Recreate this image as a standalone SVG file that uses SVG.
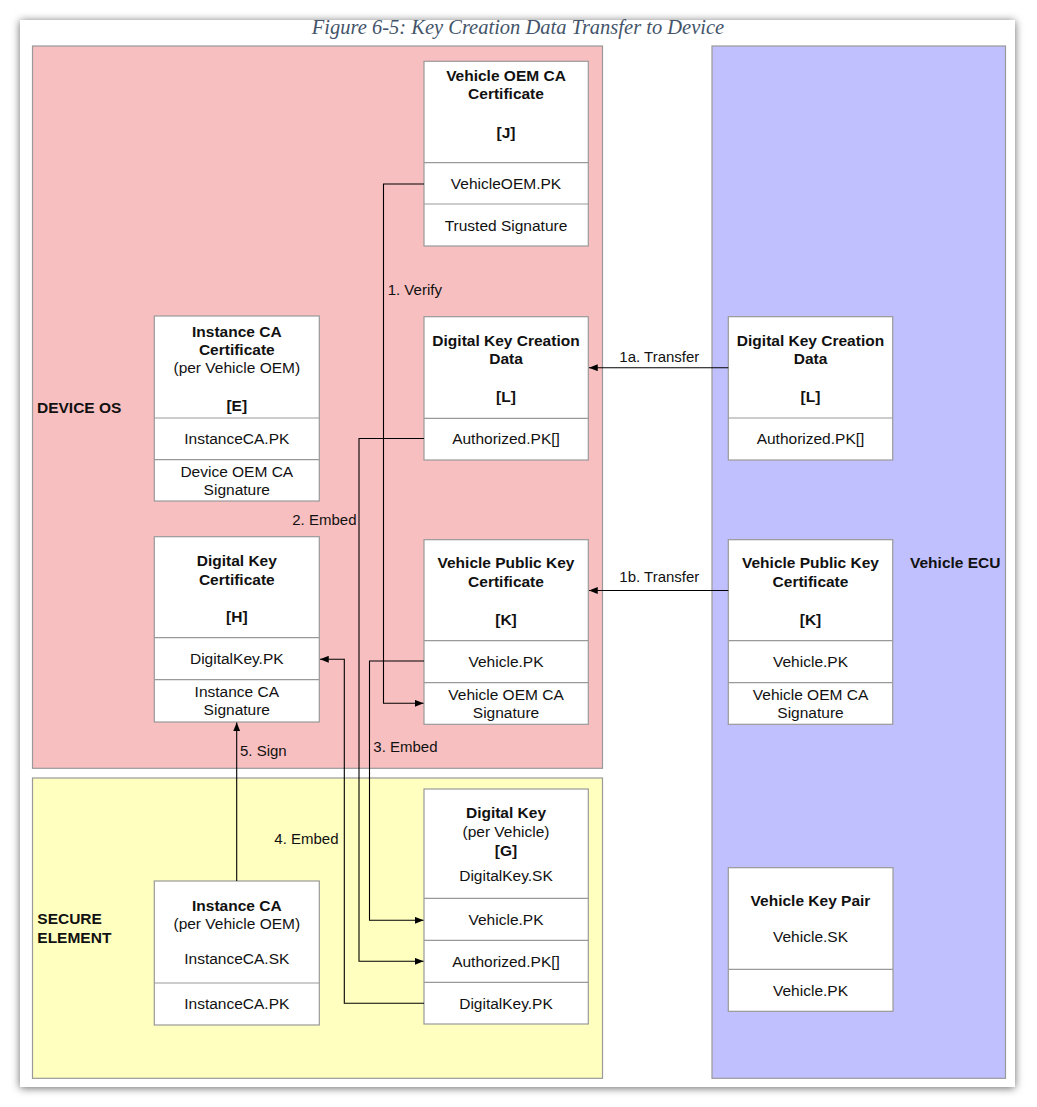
<svg xmlns="http://www.w3.org/2000/svg" width="1037" height="1107" viewBox="0 0 1037 1107">
<defs>
<filter id="shadow" x="-5%" y="-5%" width="110%" height="110%">
<feDropShadow dx="0" dy="1" stdDeviation="4" flood-color="#000" flood-opacity="0.6"/>
</filter>
<marker id="arr" viewBox="0 0 10 8" refX="10" refY="4" markerWidth="9" markerHeight="7" markerUnits="userSpaceOnUse" orient="auto">
<path d="M0,0 L10,4 L0,8 z" fill="#000"/>
</marker>
<style>
.box{fill:#fff;stroke:#999;stroke-width:1.2}
.sep{stroke:#999;stroke-width:1.2}
.t{font-family:"Liberation Sans",Arial,sans-serif;font-size:15.5px;fill:#111;text-anchor:middle}
.b{font-weight:bold}
.lbl{font-family:"Liberation Sans",Arial,sans-serif;font-size:15px;fill:#111}
.rl{font-family:"Liberation Sans",Arial,sans-serif;font-size:15.5px;font-weight:bold;fill:#111}
.con{fill:none;stroke:#000;stroke-width:1.1}
</style>
</defs>
<rect x="0" y="0" width="1037" height="1107" fill="#fff"/>
<rect x="20" y="20" width="995" height="1067" fill="#fff" filter="url(#shadow)"/>
<text x="518" y="34.3" font-family="'Liberation Serif','Times New Roman',serif" font-style="italic" font-size="20.5" fill="#44546A" text-anchor="middle">Figure 6-5: Key Creation Data Transfer to Device</text>

<g id="device-os">
<rect x="32.5" y="46" width="570" height="722.3" fill="#F8BFC0" stroke="#999" stroke-width="1.2"/>
<text class="rl" x="37" y="413">DEVICE OS</text>
</g>
<g id="secure-element">
<rect x="32.5" y="778" width="570" height="300.3" fill="#FFFFC0" stroke="#999" stroke-width="1.2"/>
<text class="rl" x="37.3" y="924.3">SECURE</text>
<text class="rl" x="37.3" y="943.3">ELEMENT</text>
</g>
<g id="vehicle-ecu">
<rect x="712" y="46" width="293.5" height="1032.3" fill="#C0C0FF" stroke="#999" stroke-width="1.2"/>
<text class="rl" x="910" y="568.3">Vehicle ECU</text>
</g>

<g id="vehicle-oem-ca-cert">
<rect class="box" x="424" y="61.3" width="164.3" height="184.7"/>
<line class="sep" x1="424" y1="162.7" x2="588.3" y2="162.7"/>
<line class="sep" x1="424" y1="204" x2="588.3" y2="204"/>
<text class="t b" x="506" y="80.7">Vehicle OEM CA</text>
<text class="t b" x="506" y="99.3">Certificate</text>
<text class="t b" x="506" y="137.7">[J]</text>
<text class="t" x="506" y="189">VehicleOEM.PK</text>
<text class="t" x="506" y="230.5">Trusted Signature</text>
</g>

<g id="dkcd-device">
<rect class="box" x="424" y="316.7" width="164.3" height="143.3"/>
<line class="sep" x1="424" y1="418.3" x2="588.3" y2="418.3"/>
<text class="t b" x="506" y="345.7">Digital Key Creation</text>
<text class="t b" x="506" y="364.3">Data</text>
<text class="t b" x="506" y="402.3">[L]</text>
<text class="t" x="506" y="444.3">Authorized.PK[]</text>
</g>

<g id="vpkc-device">
<rect class="box" x="424" y="539.7" width="164.3" height="184.6"/>
<line class="sep" x1="424" y1="640.7" x2="588.3" y2="640.7"/>
<line class="sep" x1="424" y1="682.7" x2="588.3" y2="682.7"/>
<text class="t b" x="506" y="568.3">Vehicle Public Key</text>
<text class="t b" x="506" y="587.3">Certificate</text>
<text class="t b" x="506" y="625.3">[K]</text>
<text class="t" x="506" y="667.3">Vehicle.PK</text>
<text class="t" x="506" y="700">Vehicle OEM CA</text>
<text class="t" x="506" y="718.3">Signature</text>
</g>

<g id="instance-ca-cert">
<rect class="box" x="154.3" y="316" width="165" height="185"/>
<line class="sep" x1="154.3" y1="418" x2="319.3" y2="418"/>
<line class="sep" x1="154.3" y1="459.7" x2="319.3" y2="459.7"/>
<text class="t b" x="236.8" y="336.7">Instance CA</text>
<text class="t b" x="236.8" y="355">Certificate</text>
<text class="t" x="236.8" y="373.3">(per Vehicle OEM)</text>
<text class="t b" x="236.8" y="410.7">[E]</text>
<text class="t" x="236.8" y="444">InstanceCA.PK</text>
<text class="t" x="236.8" y="477">Device OEM CA</text>
<text class="t" x="236.8" y="495">Signature</text>
</g>

<g id="digital-key-cert">
<rect class="box" x="154.3" y="536.7" width="165" height="185.3"/>
<line class="sep" x1="154.3" y1="637.7" x2="319.3" y2="637.7"/>
<line class="sep" x1="154.3" y1="679.7" x2="319.3" y2="679.7"/>
<text class="t b" x="236.8" y="566">Digital Key</text>
<text class="t b" x="236.8" y="584.7">Certificate</text>
<text class="t b" x="236.8" y="621.7">[H]</text>
<text class="t" x="236.8" y="664.3">DigitalKey.PK</text>
<text class="t" x="236.8" y="697.3">Instance CA</text>
<text class="t" x="236.8" y="715.3">Signature</text>
</g>

<g id="digital-key-se">
<rect class="box" x="424" y="789" width="164.3" height="235"/>
<line class="sep" x1="424" y1="898.3" x2="588.3" y2="898.3"/>
<line class="sep" x1="424" y1="940.3" x2="588.3" y2="940.3"/>
<line class="sep" x1="424" y1="982.3" x2="588.3" y2="982.3"/>
<text class="t b" x="506" y="818.3">Digital Key</text>
<text class="t" x="506" y="836.7">(per Vehicle)</text>
<text class="t b" x="506" y="855.7">[G]</text>
<text class="t" x="506" y="880.7">DigitalKey.SK</text>
<text class="t" x="506" y="925">Vehicle.PK</text>
<text class="t" x="506" y="966.7">Authorized.PK[]</text>
<text class="t" x="506" y="1008.7">DigitalKey.PK</text>
</g>

<g id="instance-ca-se">
<rect class="box" x="154.3" y="881" width="165" height="144"/>
<line class="sep" x1="154.3" y1="983" x2="319.3" y2="983"/>
<text class="t b" x="236.8" y="910.7">Instance CA</text>
<text class="t" x="236.8" y="929">(per Vehicle OEM)</text>
<text class="t" x="236.8" y="964">InstanceCA.SK</text>
<text class="t" x="236.8" y="1009">InstanceCA.PK</text>
</g>

<g id="dkcd-ecu">
<rect class="box" x="728.3" y="316.7" width="164.4" height="143.3"/>
<line class="sep" x1="728.3" y1="418" x2="892.7" y2="418"/>
<text class="t b" x="810.5" y="345.7">Digital Key Creation</text>
<text class="t b" x="810.5" y="364.3">Data</text>
<text class="t b" x="810.5" y="402.3">[L]</text>
<text class="t" x="810.5" y="444.3">Authorized.PK[]</text>
</g>

<g id="vpkc-ecu">
<rect class="box" x="728.3" y="539.7" width="164.4" height="184.6"/>
<line class="sep" x1="728.3" y1="640.7" x2="892.7" y2="640.7"/>
<line class="sep" x1="728.3" y1="682.7" x2="892.7" y2="682.7"/>
<text class="t b" x="810.5" y="568.3">Vehicle Public Key</text>
<text class="t b" x="810.5" y="587.3">Certificate</text>
<text class="t b" x="810.5" y="625.3">[K]</text>
<text class="t" x="810.5" y="667.3">Vehicle.PK</text>
<text class="t" x="810.5" y="700">Vehicle OEM CA</text>
<text class="t" x="810.5" y="718.3">Signature</text>
</g>

<g id="vehicle-key-pair">
<rect class="box" x="728.3" y="867.7" width="164.7" height="143.6"/>
<line class="sep" x1="728.3" y1="969.3" x2="893" y2="969.3"/>
<text class="t b" x="810.5" y="906">Vehicle Key Pair</text>
<text class="t" x="810.5" y="942.3">Vehicle.SK</text>
<text class="t" x="810.5" y="995.7">Vehicle.PK</text>
</g>

<g id="connectors">
<path class="con" d="M424,184 H383.5 V703.3 H423.5" marker-end="url(#arr)"/>
<path class="con" d="M424,438.5 H359 V961.3 H423.5" marker-end="url(#arr)"/>
<path class="con" d="M424,661 H369.5 V920.3 H423.5" marker-end="url(#arr)"/>
<path class="con" d="M424,1003.3 H344.3 V659.3 H320" marker-end="url(#arr)"/>
<path class="con" d="M236.7,881 V722.5" marker-end="url(#arr)"/>
<path class="con" d="M728.3,367.7 H589" marker-end="url(#arr)"/>
<path class="con" d="M728.3,590.5 H589" marker-end="url(#arr)"/>
<text class="lbl" x="387.7" y="295">1. Verify</text>
<text class="lbl" x="356.5" y="525" text-anchor="end">2. Embed</text>
<text class="lbl" x="373.3" y="751.7">3. Embed</text>
<text class="lbl" x="274.3" y="844.3">4. Embed</text>
<text class="lbl" x="240" y="755.7">5. Sign</text>
<text class="lbl" x="619.3" y="362.3">1a. Transfer</text>
<text class="lbl" x="619.3" y="582.3">1b. Transfer</text>
</g>
</svg>
